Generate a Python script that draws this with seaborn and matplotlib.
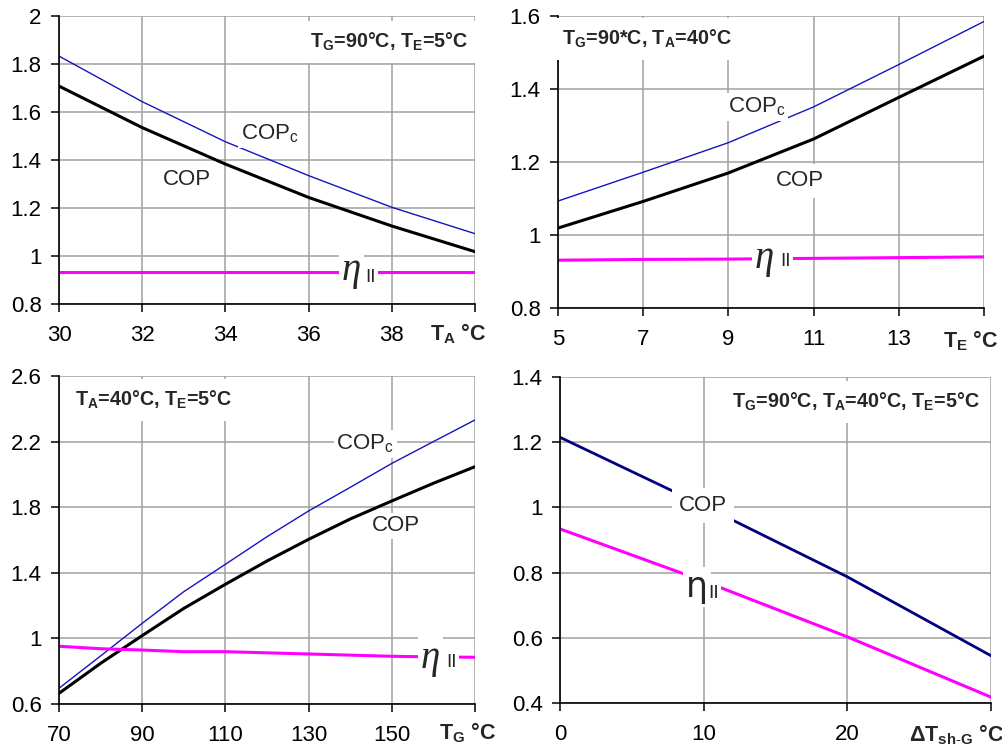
import matplotlib
matplotlib.use("Agg")
import matplotlib.pyplot as plt
import seaborn as sns

# ---------------- data ----------------
TA = [30, 32, 34, 36, 38, 40]
cop_c_TA = [1.833, 1.643, 1.476, 1.335, 1.203, 1.093]
cop_TA = [1.708, 1.535, 1.383, 1.244, 1.125, 1.018]
eta_TA = [0.932, 0.932, 0.932, 0.932, 0.932, 0.932]

TE = [5, 7, 9, 11, 13, 15]
cop_c_TE = [1.093, 1.172, 1.253, 1.351, 1.467, 1.585]
cop_TE = [1.019, 1.092, 1.170, 1.263, 1.377, 1.490]
eta_TE = [0.931, 0.933, 0.934, 0.936, 0.938, 0.940]

TG = [70, 80, 90, 100, 110, 120, 130, 140, 150, 160, 170]
cop_c_TG = [0.696, 0.893, 1.092, 1.285, 1.452, 1.620, 1.777, 1.921, 2.067, 2.200, 2.332]
cop_TG = [0.665, 0.848, 1.017, 1.183, 1.330, 1.472, 1.604, 1.728, 1.838, 1.946, 2.047]
eta_TG = [0.952, 0.937, 0.929, 0.919, 0.919, 0.912, 0.905, 0.898, 0.891, 0.887, 0.885]

dT = [0, 10, 20, 30]
cop_dT = [1.215, 1.005, 0.787, 0.545]
eta_dT = [0.934, 0.774, 0.603, 0.418]

xt1 = [30, 32, 34, 36, 38, 40]
yt1 = [0.8, 1.0, 1.2, 1.4, 1.6, 1.8, 2.0]
xt2 = [5, 7, 9, 11, 13, 15]
yt2 = [0.8, 1.0, 1.2, 1.4, 1.6]
xt3 = [70, 90, 110, 130, 150, 170]
yt3 = [0.6, 1.0, 1.4, 1.8, 2.2, 2.6]
xt4 = [0, 10, 20, 30]
yt4 = [0.4, 0.6, 0.8, 1.0, 1.2, 1.4]

cond1 = r"T$_{\mathbf{G}}$=90°C, T$_{\mathbf{E}}$=5°C"
cond2 = r"T$_{\mathbf{G}}$=90*C, T$_{\mathbf{A}}$=40°C"
cond3 = r"T$_{\mathbf{A}}$=40°C, T$_{\mathbf{E}}$=5°C"
cond4 = r"T$_{\mathbf{G}}$=90°C, T$_{\mathbf{A}}$=40°C, T$_{\mathbf{E}}$=5°C"
xlab1 = r"T$_{\mathbf{A}}$ °C"
xlab2 = r"T$_{\mathbf{E}}$ °C"
xlab3 = r"T$_{\mathbf{G}}$ °C"
xlab4 = r"ΔT$_{\mathbf{sh\text{-}G}}$ °C"

# ---------------- style ----------------
sns.set_theme(style="white")
plt.rcParams["font.family"] = ["Liberation Sans", "DejaVu Sans"]
plt.rcParams["mathtext.fontset"] = "custom"
plt.rcParams["mathtext.rm"] = "Liberation Sans"
plt.rcParams["mathtext.it"] = "Liberation Sans:italic"
plt.rcParams["mathtext.bf"] = "Liberation Sans:bold"
plt.rcParams["mathtext.sf"] = "Liberation Sans"

BLUE = "#1414C0"
NAVY = "#000080"
MAG = "#FF00FF"
GRID = "#A0A0A0"
TICKFS = 16
LBLFS = 15.5
CONDFS = 14.2
WB = dict(facecolor="white", edgecolor="none", pad=2)

fig = plt.figure(figsize=(10.02, 7.49), dpi=100)
W, H = 1002, 749


def mk(l, t, r, b):
    return fig.add_axes([l / W, 1 - b / H, (r - l) / W, (b - t) / H])


def fmt(v):
    s = f"{v:.1f}"
    return s[:-2] if s.endswith(".0") else s


def setup(ax, xt, yt, xlab, xlabpos):
    ax.set_xlim(xt[0], xt[-1])
    ax.set_ylim(yt[0], yt[-1])
    ax.set_xticks(xt)
    ax.set_xticklabels([str(v) for v in xt[:-1]] + [""])
    ax.set_yticks(yt)
    ax.set_yticklabels([fmt(v) for v in yt])
    ax.set_axisbelow(True)
    ax.grid(True, color=GRID, linewidth=1.1)
    for s in ["top", "right"]:
        ax.spines[s].set_visible(False)
    for s in ["left", "bottom"]:
        ax.spines[s].set_color("black")
        ax.spines[s].set_linewidth(1.2)
    ax.tick_params(axis="both", direction="out", length=6, width=1.1,
                   color="black", labelsize=TICKFS, labelcolor="black",
                   left=True, bottom=True)
    ax.tick_params(axis="x", pad=9)
    ax.tick_params(axis="y", pad=6.5)
    ax.set_xlabel("")
    ax.set_ylabel("")
    ax.text(xlabpos[0], xlabpos[1], xlab, transform=ax.transAxes, ha="center",
            va="center", fontsize=LBLFS, fontweight="bold")


def eta(ax, x, y, x2, y2, upright=False):
    if upright:
        ax.text(x, y, "η", transform=ax.transAxes, ha="right", va="center",
                fontsize=25, family="DejaVu Sans", bbox=WB, zorder=5)
        ax.text(x2, y2, "II", transform=ax.transAxes, ha="left", va="center",
                fontsize=14, bbox=WB, zorder=5)
    else:
        ax.text(x, y, "η", transform=ax.transAxes, ha="right", va="center",
                fontsize=28, family="Liberation Serif", style="italic",
                bbox=WB, zorder=5)
        ax.text(x2, y2, "II", transform=ax.transAxes, ha="left", va="center",
                fontsize=13.5, bbox=WB, zorder=5)


# ---------- panel 1 ----------
ax1 = mk(59, 16, 475, 304)
sns.lineplot(x=TA, y=cop_c_TA, ax=ax1, color=BLUE, linewidth=1.0)
sns.lineplot(x=TA, y=cop_TA, ax=ax1, color="black", linewidth=2.2)
sns.lineplot(x=TA, y=eta_TA, ax=ax1, color=MAG, linewidth=2.2)
setup(ax1, xt1, yt1, xlab1, (0.959, -0.104))
ax1.text(0.983, 0.91, cond1, transform=ax1.transAxes, ha="right", va="center",
         fontsize=CONDFS, fontweight="bold",
         bbox=dict(facecolor="white", edgecolor="none", pad=7), zorder=5)
ax1.text(0.507, 0.59, r"COP$_{\mathrm{c}}$", transform=ax1.transAxes,
         ha="center", va="center", fontsize=16, bbox=WB, zorder=5)
ax1.text(0.308, 0.431, "COP", transform=ax1.transAxes, ha="center",
         va="center", fontsize=16, bbox=WB, zorder=5)
eta(ax1, 0.726, 0.118, 0.736, 0.092)

# ---------- panel 2 ----------
ax2 = mk(558, 16, 984, 308)
sns.lineplot(x=TE, y=cop_c_TE, ax=ax2, color=BLUE, linewidth=1.0)
sns.lineplot(x=TE, y=cop_TE, ax=ax2, color="black", linewidth=2.2)
sns.lineplot(x=TE, y=eta_TE, ax=ax2, color=MAG, linewidth=2.2)
setup(ax2, xt2, yt2, xlab2, (0.969, -0.113))
ax2.text(0.010, 0.921, cond2, transform=ax2.transAxes, ha="left", va="center",
         fontsize=CONDFS, fontweight="bold",
         bbox=dict(facecolor="white", edgecolor="none", pad=7), zorder=5)
ax2.text(0.467, 0.688, r"COP$_{\mathrm{c}}$", transform=ax2.transAxes,
         ha="center", va="center", fontsize=16, bbox=WB, zorder=5)
ax2.text(0.568, 0.435, "COP", transform=ax2.transAxes, ha="center",
         va="center", fontsize=16, bbox=dict(facecolor="white", edgecolor="none", pad=5), zorder=5)
eta(ax2, 0.507, 0.170, 0.521, 0.158)

# ---------- panel 3 ----------
ax3 = mk(59, 376, 475, 704)
sns.lineplot(x=TG, y=cop_c_TG, ax=ax3, color=BLUE, linewidth=1.0)
sns.lineplot(x=TG, y=cop_TG, ax=ax3, color="black", linewidth=2.2)
sns.lineplot(x=TG, y=eta_TG, ax=ax3, color=MAG, linewidth=2.2)
setup(ax3, xt3, yt3, xlab3, (0.981, -0.088))
ax3.text(0.038, 0.927, cond3, transform=ax3.transAxes, ha="left", va="center",
         fontsize=CONDFS, fontweight="bold",
         bbox=dict(facecolor="white", edgecolor="none", pad=7), zorder=5)
ax3.text(0.736, 0.793, r"COP$_{\mathrm{c}}$", transform=ax3.transAxes,
         ha="center", va="center", fontsize=16, bbox=WB, zorder=5)
ax3.text(0.81, 0.543, "COP", transform=ax3.transAxes, ha="center",
         va="center", fontsize=16, bbox=WB, zorder=5)
eta(ax3, 0.916, 0.140, 0.930, 0.127)

# ---------- panel 4 ----------
ax4 = mk(560, 377, 991, 703)
sns.lineplot(x=dT, y=cop_dT, ax=ax4, color=NAVY, linewidth=2.0)
sns.lineplot(x=dT, y=eta_dT, ax=ax4, color=MAG, linewidth=2.2)
setup(ax4, xt4, yt4, xlab4, (0.919, -0.098))
ax4.text(0.974, 0.923, cond4, transform=ax4.transAxes, ha="right", va="center",
         fontsize=CONDFS, fontweight="bold",
         bbox=dict(facecolor="white", edgecolor="none", pad=7), zorder=5)
ax4.text(0.332, 0.607, "COP", transform=ax4.transAxes, ha="center",
         va="center", fontsize=16, bbox=dict(facecolor="white", edgecolor="none", pad=5), zorder=5)
eta(ax4, 0.343, 0.356, 0.343, 0.337, upright=True)

fig.savefig("out.png", dpi=100)
